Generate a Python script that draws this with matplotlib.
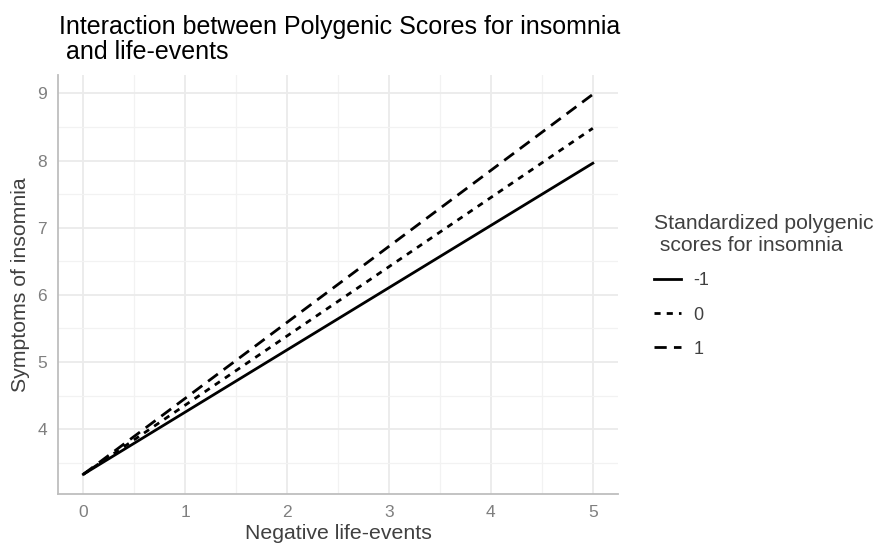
import numpy as np
import matplotlib.pyplot as plt
from matplotlib.ticker import MultipleLocator

plt.rcParams['font.family'] = ['Liberation Sans', 'DejaVu Sans']

# model predictions for each polygenic score level
x_events = [0, 5]
groups = ['-1', '0', '1']
y_pred = {
    '-1': [3.33, 7.96],
    '0': [3.33, 8.48],
    '1': [3.33, 8.985],
}
styles = {'-1': '-', '0': (0, (2.2, 2.2)), '1': (0, (4.4, 2.6))}

fig = plt.figure(figsize=(8.77, 5.45), dpi=100)
ax = fig.add_axes([0.066, 0.094, 0.639, 0.768])

for g in groups:
    ax.plot(x_events, y_pred[g], color='black', linestyle=styles[g], lw=2.0, label=g)

ax.set_xlim(-0.25, 5.25)
ax.set_ylim(3.04, 9.27)
ax.xaxis.set_major_locator(MultipleLocator(1))
ax.xaxis.set_minor_locator(MultipleLocator(0.5))
ax.yaxis.set_major_locator(MultipleLocator(1))
ax.yaxis.set_minor_locator(MultipleLocator(0.5))
ax.grid(which='major', color='#EBEBEB', lw=1.3)
ax.grid(which='minor', color='#F2F2F2', lw=0.9)
ax.set_axisbelow(True)
for s in ['top', 'right']:
    ax.spines[s].set_visible(False)
for s in ['left', 'bottom']:
    ax.spines[s].set_color('#BEBEBE')
    ax.spines[s].set_linewidth(1.3)
ax.tick_params(which='both', length=0, labelsize=12.5, colors='#7F7F7F', pad=8)

ax.set_xlabel('Negative life-events', fontsize=15.3, color='#404040', labelpad=3)
ax.set_ylabel('Symptoms of insomnia', fontsize=15.3, color='#404040', labelpad=5)

fig.text(0.067, 1 - 59 / 545, 'Interaction between Polygenic Scores for insomnia\n and life-events',
         fontsize=18, color='black', ha='left', va='baseline', linespacing=1.05)

leg = ax.legend(title='Standardized polygenic\n scores for insomnia', loc='upper left',
                bbox_to_anchor=(1.05, 0.685), frameon=False, fontsize=13,
                title_fontsize=15.2, handlelength=1.5, labelspacing=0.95,
                handletextpad=0.7, borderaxespad=0)
leg._legend_box.align = 'left'
leg.get_title().set_color('#404040')
for t in leg.get_texts():
    t.set_color('#404040')

fig.savefig('out.png', dpi=100)
